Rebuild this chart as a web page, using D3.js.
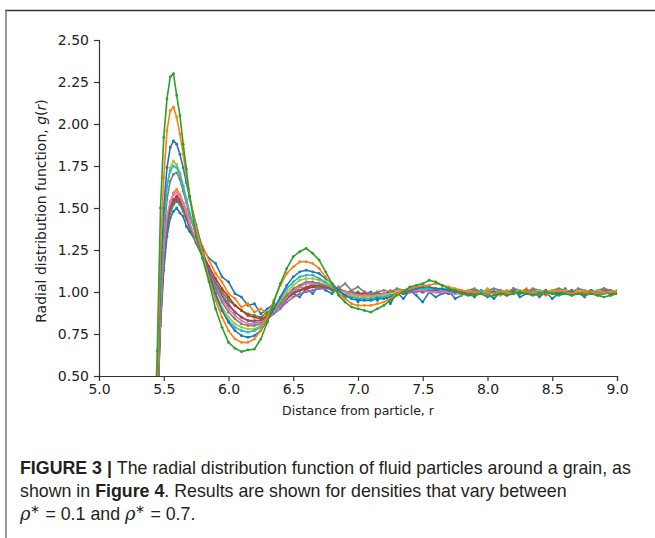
<!DOCTYPE html>
<html>
<head>
<meta charset="utf-8">
<script src="https://cdn.jsdelivr.net/npm/d3@7"></script>
<style>
  html, body { margin: 0; padding: 0; background: #fff; }
  svg { display: block; }
</style>
</head>
<body>
<svg id="chart" width="655" height="538"></svg>
<script>
// ---------------- DATA ----------------
const rValues = [
  5.40, 5.425, 5.45, 5.475, 5.50, 5.525, 5.55, 5.575, 5.60, 5.625,
  5.65, 5.675, 5.70, 5.75, 5.80, 5.85, 5.90, 5.95, 6.00, 6.05,
  6.10, 6.15, 6.20, 6.25, 6.30, 6.35, 6.40, 6.45, 6.50, 6.55,
  6.60, 6.65, 6.70, 6.75, 6.80, 6.85, 6.90, 6.95, 7.00, 7.05,
  7.10, 7.15, 7.20, 7.25, 7.30, 7.35, 7.40, 7.45, 7.50, 7.55,
  7.60, 7.65, 7.70, 7.75, 7.80, 7.85, 7.90, 7.95, 8.00, 8.05,
  8.10, 8.15, 8.20, 8.25, 8.30, 8.35, 8.40, 8.45, 8.50, 8.55,
  8.60, 8.65, 8.70, 8.75, 8.80, 8.85, 8.90, 8.95, 9.00
];

const densityLabels = ["0.10","0.15","0.20","0.25","0.30","0.35","0.40","0.45","0.50","0.55","0.60","0.65","0.70"];

const g_rho010 = [
  0.00, 0.01, 0.26, 0.80, 1.13, 1.33, 1.44, 1.48, 1.50, 1.47,
  1.45, 1.39, 1.36, 1.30, 1.26, 1.20, 1.17, 1.09, 1.06, 0.99,
  0.97, 0.92, 0.93, 0.87, 0.90, 0.93, 0.91, 0.96, 0.99, 0.97,
  1.02, 0.99, 1.04, 1.01, 0.99, 1.03, 0.96, 1.01, 0.94, 0.99,
  1.00, 0.95, 0.99, 0.93, 1.00, 0.96, 1.01, 0.98, 0.94, 1.00,
  0.97, 0.99, 1.01, 0.96, 0.98, 1.00, 0.97, 1.01, 0.99, 0.96,
  1.00, 0.98, 1.02, 0.97, 0.99, 1.01, 0.97, 1.00, 0.96, 0.99,
  1.02, 0.98, 1.00, 0.97, 1.01, 0.99, 1.02, 0.98, 1.00
];
const g_rho015 = [
  0.00, 0.01, 0.28, 0.84, 1.20, 1.42, 1.53, 1.59, 1.61, 1.58,
  1.53, 1.49, 1.44, 1.36, 1.27, 1.19, 1.11, 1.06, 0.99, 0.96,
  0.91, 0.93, 0.88, 0.90, 0.87, 0.92, 0.94, 0.99, 1.00, 1.03,
  1.02, 1.05, 1.03, 1.04, 1.01, 1.03, 0.99, 1.01, 0.98, 1.00,
  0.97, 1.00, 0.98, 1.01, 0.99, 1.00, 1.02, 1.00, 1.03, 1.01,
  1.02, 0.99, 1.01, 1.00, 0.98, 1.01, 1.00, 0.99, 1.02, 1.00,
  0.98, 1.01, 0.99, 1.00, 1.02, 0.99, 1.01, 0.98, 1.00, 1.01,
  0.99, 1.01, 1.00, 0.98, 1.01, 1.00, 0.99, 1.01, 1.00
];
const g_rho020 = [
  0.00, 0.02, 0.29, 0.82, 1.16, 1.37, 1.47, 1.52, 1.54, 1.52,
  1.48, 1.43, 1.38, 1.29, 1.21, 1.13, 1.06, 1.00, 0.95, 0.92,
  0.89, 0.87, 0.86, 0.85, 0.88, 0.90, 0.94, 0.97, 1.00, 1.01,
  1.02, 1.03, 1.02, 1.03, 1.01, 1.02, 1.00, 0.99, 1.00, 0.98,
  0.99, 0.98, 0.99, 0.98, 1.00, 0.99, 1.00, 1.01, 1.00, 1.01,
  1.00, 1.01, 0.99, 1.00, 1.00, 0.99, 1.01, 1.00, 0.99, 1.00,
  1.01, 1.00, 0.99, 1.00, 1.01, 0.99, 1.00, 1.00, 0.99, 1.01,
  1.00, 0.99, 1.00, 1.01, 1.00, 0.99, 1.00, 1.01, 1.00
];
const g_rho025 = [
  0.00, 0.02, 0.30, 0.85, 1.19, 1.40, 1.50, 1.55, 1.57, 1.55,
  1.50, 1.45, 1.40, 1.31, 1.23, 1.15, 1.08, 1.02, 0.97, 0.92,
  0.89, 0.86, 0.85, 0.84, 0.86, 0.89, 0.92, 0.96, 0.99, 1.01,
  1.02, 1.03, 1.04, 1.03, 1.03, 1.02, 1.00, 1.00, 0.99, 0.99,
  0.98, 0.99, 0.98, 0.99, 1.00, 0.99, 1.00, 1.01, 1.00, 1.01,
  1.01, 1.00, 1.00, 0.99, 1.00, 1.01, 1.00, 0.99, 1.00, 1.00,
  0.99, 1.00, 1.01, 1.00, 0.99, 1.00, 1.00, 1.01, 0.99, 1.00,
  1.00, 1.01, 0.99, 1.00, 1.00, 0.99, 1.01, 1.00, 1.00
];
const g_rho030 = [
  0.00, 0.02, 0.31, 0.87, 1.20, 1.40, 1.49, 1.53, 1.55, 1.53,
  1.49, 1.44, 1.39, 1.30, 1.21, 1.13, 1.05, 0.98, 0.93, 0.88,
  0.85, 0.83, 0.82, 0.82, 0.84, 0.87, 0.90, 0.94, 0.97, 0.99,
  1.00, 1.01, 1.02, 1.02, 1.02, 1.01, 1.00, 1.00, 0.99, 0.98,
  0.98, 0.98, 0.99, 0.99, 0.99, 1.00, 1.00, 1.00, 1.01, 1.00,
  1.00, 0.99, 1.00, 1.00, 1.01, 0.99, 0.99, 1.00, 0.98, 1.00,
  0.99, 1.00, 0.99, 1.00, 1.00, 0.99, 0.98, 1.00, 0.99, 1.00,
  0.99, 1.00, 0.99, 0.99, 1.00, 0.98, 0.99, 1.00, 0.99
];
const g_rho035 = [
  0.00, 0.02, 0.32, 0.88, 1.22, 1.41, 1.50, 1.54, 1.55, 1.54,
  1.50, 1.45, 1.40, 1.30, 1.21, 1.12, 1.04, 0.97, 0.92, 0.88,
  0.85, 0.83, 0.83, 0.83, 0.85, 0.88, 0.92, 0.96, 0.99, 1.01,
  1.03, 1.04, 1.04, 1.03, 1.02, 1.01, 1.00, 0.99, 0.99, 0.98,
  0.98, 0.99, 0.99, 1.00, 1.00, 1.01, 1.01, 1.01, 1.00, 1.01,
  1.00, 1.00, 0.99, 1.00, 1.00, 1.00, 0.99, 1.00, 1.00, 1.00,
  1.00, 0.99, 1.00, 1.00, 1.00, 1.01, 1.00, 0.99, 1.00, 1.00,
  1.00, 1.00, 0.99, 1.00, 1.01, 1.00, 1.00, 0.99, 1.00
];
const g_rho040 = [
  0.00, 0.02, 0.33, 0.90, 1.25, 1.45, 1.54, 1.58, 1.59, 1.57,
  1.52, 1.47, 1.41, 1.31, 1.21, 1.11, 1.03, 0.96, 0.90, 0.86,
  0.83, 0.81, 0.81, 0.82, 0.84, 0.88, 0.92, 0.97, 1.01, 1.03,
  1.05, 1.05, 1.05, 1.04, 1.03, 1.01, 1.00, 0.99, 0.98, 0.98,
  0.98, 0.98, 0.99, 0.99, 1.00, 1.00, 1.01, 1.01, 1.01, 1.00,
  1.00, 1.00, 1.00, 0.99, 0.99, 1.00, 1.00, 1.00, 0.99, 1.00,
  1.00, 1.00, 0.99, 1.00, 1.00, 1.00, 0.99, 1.00, 1.00, 1.00,
  0.99, 1.00, 1.00, 1.00, 0.99, 1.00, 1.00, 1.00, 1.00
];
const g_rho045 = [
  0.00, 0.02, 0.35, 0.95, 1.33, 1.55, 1.66, 1.70, 1.71, 1.67,
  1.60, 1.53, 1.46, 1.34, 1.22, 1.11, 1.02, 0.94, 0.88, 0.84,
  0.81, 0.80, 0.80, 0.81, 0.84, 0.88, 0.93, 0.98, 1.02, 1.04,
  1.06, 1.06, 1.05, 1.04, 1.03, 1.02, 1.05, 1.01, 1.03, 1.00,
  0.99, 1.00, 1.01, 1.00, 1.02, 1.01, 1.02, 1.03, 1.02, 1.01,
  1.02, 1.01, 1.02, 1.01, 1.00, 1.01, 1.02, 1.00, 1.01, 1.02,
  1.01, 1.00, 1.02, 1.01, 1.00, 1.02, 1.01, 1.00, 1.01, 1.02,
  1.01, 1.00, 1.02, 1.01, 1.00, 1.01, 1.02, 1.01, 1.00
];
const g_rho050 = [
  0.00, 0.02, 0.37, 1.00, 1.40, 1.63, 1.74, 1.78, 1.76, 1.71,
  1.63, 1.55, 1.47, 1.34, 1.21, 1.09, 0.99, 0.91, 0.85, 0.81,
  0.79, 0.78, 0.78, 0.80, 0.84, 0.89, 0.95, 1.00, 1.04, 1.07,
  1.08, 1.08, 1.07, 1.05, 1.03, 1.01, 0.99, 0.98, 0.97, 0.97,
  0.97, 0.98, 0.98, 0.99, 1.00, 1.01, 1.02, 1.02, 1.02, 1.02,
  1.02, 1.01, 1.01, 1.00, 1.00, 1.01, 1.00, 1.00, 1.01, 1.00,
  1.00, 1.01, 1.00, 1.01, 1.00, 1.00, 1.01, 1.00, 1.01, 1.00,
  1.01, 1.00, 1.00, 1.01, 1.00, 1.01, 1.00, 1.00, 1.01
];
const g_rho055 = [
  0.00, 0.02, 0.38, 1.02, 1.42, 1.63, 1.72, 1.75, 1.74, 1.70,
  1.63, 1.55, 1.47, 1.34, 1.20, 1.07, 0.97, 0.89, 0.83, 0.79,
  0.77, 0.76, 0.77, 0.79, 0.84, 0.90, 0.96, 1.02, 1.06, 1.09,
  1.10, 1.10, 1.08, 1.06, 1.03, 1.00, 0.98, 0.97, 0.96, 0.96,
  0.96, 0.97, 0.97, 0.98, 0.99, 1.00, 1.01, 1.02, 1.02, 1.02,
  1.02, 1.01, 1.01, 1.00, 1.00, 0.99, 1.00, 1.00, 0.99, 1.00,
  1.00, 0.99, 1.00, 1.00, 0.99, 1.00, 1.00, 1.00, 0.99, 1.00,
  1.00, 1.00, 0.99, 1.00, 1.00, 1.00, 0.99, 1.00, 1.00
];
const g_rho060 = [
  0.00, 0.02, 0.40, 1.08, 1.50, 1.74, 1.86, 1.90, 1.88, 1.82,
  1.74, 1.65, 1.56, 1.40, 1.25, 1.11, 0.99, 0.89, 0.82, 0.77,
  0.74, 0.73, 0.74, 0.77, 0.83, 0.90, 0.97, 1.04, 1.09, 1.12,
  1.13, 1.12, 1.11, 1.08, 1.05, 1.01, 0.98, 0.96, 0.95, 0.95,
  0.95, 0.96, 0.96, 0.97, 0.99, 1.00, 1.01, 1.02, 1.03, 1.03,
  1.02, 1.02, 1.01, 1.00, 1.00, 0.99, 1.00, 0.99, 1.00, 1.00,
  0.99, 1.00, 1.00, 0.99, 1.00, 1.00, 0.99, 1.00, 1.00, 0.99,
  1.00, 1.00, 0.99, 1.00, 1.00, 0.99, 1.00, 1.00, 1.00
];
const g_rho065 = [
  0.00, 0.01, 0.45, 1.25, 1.68, 1.96, 2.08, 2.10, 2.04, 1.94,
  1.82, 1.69, 1.57, 1.38, 1.23, 1.08, 0.95, 0.85, 0.77, 0.72,
  0.70, 0.70, 0.72, 0.77, 0.85, 0.95, 1.04, 1.11, 1.15, 1.18,
  1.18, 1.17, 1.14, 1.09, 1.04, 0.99, 0.96, 0.93, 0.92, 0.92,
  0.92, 0.93, 0.94, 0.96, 0.99, 1.01, 1.02, 1.03, 1.04, 1.04,
  1.05, 1.04, 1.03, 1.02, 1.01, 1.00, 1.00, 0.99, 1.00, 0.99,
  1.00, 1.00, 0.99, 1.00, 1.00, 1.00, 0.99, 1.00, 1.00, 1.01,
  1.00, 0.99, 1.00, 1.00, 1.00, 0.99, 1.00, 1.00, 1.00
];
const g_rho070 = [
  0.00, 0.03, 0.65, 1.50, 1.92, 2.15, 2.28, 2.30, 2.17, 2.05,
  1.88, 1.73, 1.57, 1.33, 1.20, 1.06, 0.90, 0.79, 0.70, 0.665,
  0.645, 0.655, 0.66, 0.72, 0.82, 0.94, 1.05, 1.14, 1.21, 1.24,
  1.26, 1.23, 1.19, 1.12, 1.05, 0.98, 0.94, 0.91, 0.90, 0.89,
  0.88, 0.90, 0.92, 0.95, 0.98, 1.00, 1.03, 1.04, 1.05, 1.07,
  1.06, 1.04, 1.02, 1.01, 0.99, 0.98, 0.98, 0.99, 0.97, 0.98,
  0.99, 0.98, 0.99, 1.00, 0.99, 0.98, 0.99, 1.00, 0.99, 0.98,
  0.99, 0.98, 0.99, 0.98, 0.99, 0.98, 0.97, 0.98, 0.99
];

const seriesValues = [g_rho010, g_rho015, g_rho020, g_rho025, g_rho030, g_rho035, g_rho040,
                      g_rho045, g_rho050, g_rho055, g_rho060, g_rho065, g_rho070];

const xTickValues = [5.0, 5.5, 6.0, 6.5, 7.0, 7.5, 8.0, 8.5, 9.0];
const yTickValues = [0.50, 0.75, 1.00, 1.25, 1.50, 1.75, 2.00, 2.25, 2.50];
const xDomain = [5.0, 9.0];
const yDomain = [0.5, 2.5];

// ---------------- DRAW ----------------
const palette = d3.schemeCategory10;
const svg = d3.select("#chart");
const margin = { left: 99, right: 38, top: 40, bottom: 162 };
const W = 655, H = 538;
const x = d3.scaleLinear().domain(xDomain).range([margin.left, W - margin.right]);
const y = d3.scaleLinear().domain(yDomain).range([H - margin.bottom, margin.top]);

// frame
svg.append("line").attr("x1", 5).attr("x2", 655).attr("y1", 10.5).attr("y2", 10.5)
  .attr("stroke", "#333").attr("stroke-width", 1.5);
svg.append("line").attr("x1", 6).attr("x2", 6).attr("y1", 10).attr("y2", 538)
  .attr("stroke", "#777").attr("stroke-width", 1.5);

svg.append("clipPath").attr("id", "plotclip").append("rect")
  .attr("x", x(xDomain[0])).attr("y", y(yDomain[1]) - 2)
  .attr("width", x(xDomain[1]) - x(xDomain[0])).attr("height", y(yDomain[0]) - y(yDomain[1]) + 2);

const plot = svg.append("g").attr("clip-path", "url(#plotclip)");
const line = d3.line().x((d) => x(d[0])).y((d) => y(d[1]));

seriesValues.forEach((vals, si) => {
  const pts = rValues.map((r, i) => [r, vals[i]]).filter(p => p[1] !== undefined);
  const col = palette[si % 10];
  const g = plot.append("g").attr("class", "series").attr("data-rho", densityLabels[si]);
  g.append("path").datum(pts).attr("d", line)
    .attr("fill", "none").attr("stroke", col).attr("stroke-width", 1.6).attr("stroke-linejoin", "round");
  g.selectAll("circle").data(pts).join("circle")
    .attr("cx", d => x(d[0])).attr("cy", d => y(d[1])).attr("r", 1.4).attr("fill", col);
});

// axes
const fontAxis = "DejaVu Sans, sans-serif";
const xAxis = d3.axisBottom(x).tickValues(xTickValues).tickFormat(d3.format(".1f")).tickSizeOuter(0).tickSize(5).tickPadding(3);
const yAxis = d3.axisLeft(y).tickValues(yTickValues).tickFormat(d3.format(".2f")).tickSizeOuter(0).tickSize(5).tickPadding(5);

const gx = svg.append("g").attr("transform", `translate(0,${y(yDomain[0])})`).call(xAxis);
const gy = svg.append("g").attr("transform", `translate(${x(xDomain[0])},0)`).call(yAxis);
[gx, gy].forEach(g => {
  g.select(".domain").attr("stroke", "#333").attr("stroke-width", 1.2);
  g.selectAll(".tick line").attr("stroke", "#333").attr("stroke-width", 1.2);
  g.selectAll(".tick text").attr("fill", "#222").style("font-family", fontAxis).style("font-size", "14px");
});

svg.append("text").attr("x", (x(xDomain[0]) + x(xDomain[1])) / 2).attr("y", 415)
  .attr("text-anchor", "middle").attr("fill", "#222")
  .style("font-family", fontAxis).style("font-size", "12.5px")
  .text("Distance from particle, r");

const yl = svg.append("text").attr("transform", `translate(46,211) rotate(-90)`)
  .attr("text-anchor", "middle").attr("fill", "#222")
  .style("font-family", fontAxis).style("font-size", "14px");
yl.append("tspan").text("Radial distribution function, ");
yl.append("tspan").style("font-style", "italic").text("g");
yl.append("tspan").text("(");
yl.append("tspan").style("font-style", "italic").text("r");
yl.append("tspan").text(")");

// caption
const capFont = "Liberation Sans, Arial, sans-serif";
const cap = svg.append("g").style("font-family", capFont).style("font-size", "17.8px").attr("fill", "#231f20");
const l1 = cap.append("text").attr("x", 20).attr("y", 474);
l1.append("tspan").style("font-weight", "bold").text("FIGURE 3 | ");
l1.append("tspan").text("The radial distribution function of fluid particles around a grain, as");
const l2 = cap.append("text").attr("x", 20).attr("y", 497);
l2.append("tspan").text("shown in ");
l2.append("tspan").style("font-weight", "bold").text("Figure 4");
l2.append("tspan").text(". Results are shown for densities that vary between");
const l3 = cap.append("text").attr("x", 20).attr("y", 520);
l3.append("tspan").style("font-style", "italic").style("font-family", "DejaVu Serif, serif").text("ρ");
l3.append("tspan").attr("dy", -7).style("font-size", "12px").text("∗");
l3.append("tspan").attr("dy", 7).text(" = 0.1 and ");
l3.append("tspan").style("font-style", "italic").style("font-family", "DejaVu Serif, serif").text("ρ");
l3.append("tspan").attr("dy", -7).style("font-size", "12px").text("∗");
l3.append("tspan").attr("dy", 7).text(" = 0.7.");
</script>
</body>
</html>
